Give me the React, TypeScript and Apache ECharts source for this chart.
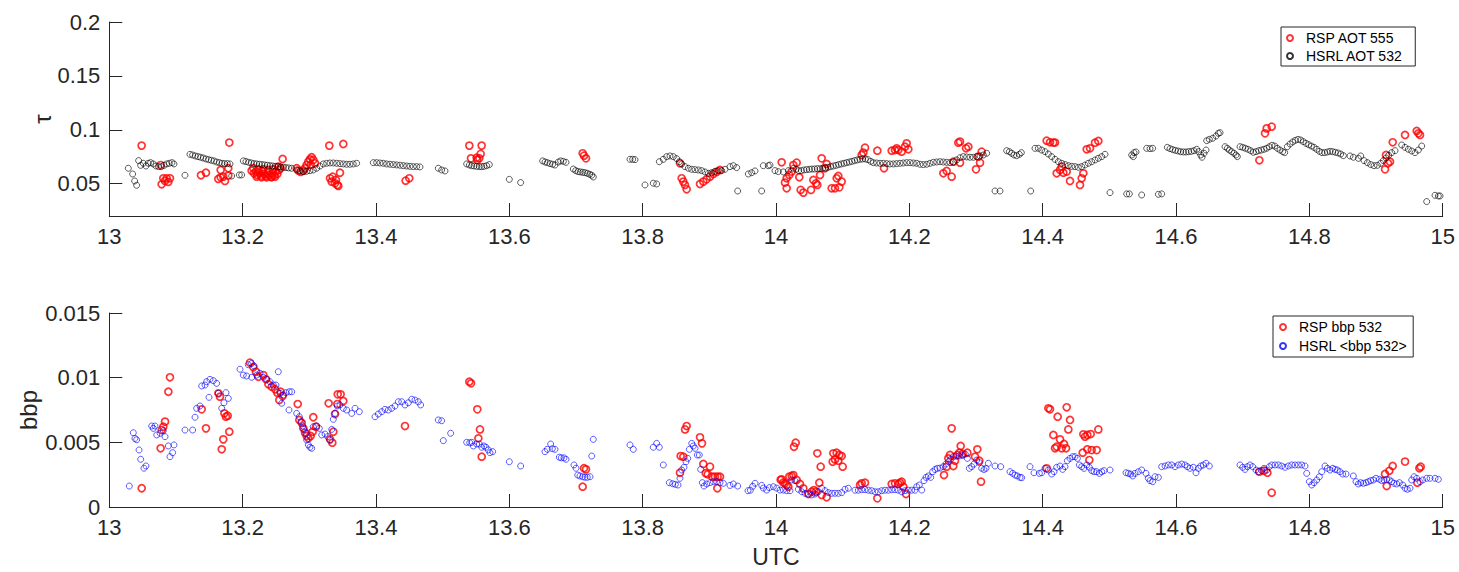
import React, { useEffect, useRef } from "react";
import * as echarts from "echarts";

// UTC hour vs. aerosol optical thickness (top) and particulate backscatter (bottom)
const xTicks = [13, 13.2, 13.4, 13.6, 13.8, 14, 14.2, 14.4, 14.6, 14.8, 15];
const tauTicks = [0.05, 0.1, 0.15, 0.2];
const bbpTicks = [0, 0.005, 0.01, 0.015];

const rspAot: [number, number][] = [
  [13.0485, 0.0853], [13.0785, 0.0494], [13.081, 0.055], [13.086, 0.055], [13.091, 0.055], [13.0835, 0.0525],
  [13.0885, 0.0516], [13.077, 0.0673], [13.1375, 0.0578], [13.145, 0.0602], [13.1635, 0.0544], [13.167, 0.0559],
  [13.171, 0.0565], [13.1735, 0.0525], [13.1785, 0.0575], [13.167, 0.0627], [13.18, 0.0881], [13.1785, 0.0643],
  [13.2135, 0.0621], [13.217, 0.0596], [13.22, 0.0612], [13.222, 0.0581], [13.225, 0.0602], [13.2275, 0.0571],
  [13.23, 0.0612], [13.232, 0.059], [13.2345, 0.0571], [13.237, 0.0602], [13.2395, 0.0581], [13.242, 0.0565],
  [13.2445, 0.0596], [13.247, 0.0578], [13.2495, 0.0612], [13.252, 0.059], [13.2545, 0.0627], [13.257, 0.0643],
  [13.216, 0.0643], [13.2235, 0.0633], [13.231, 0.0633], [13.2385, 0.0627], [13.246, 0.0633], [13.2535, 0.0658],
  [13.221, 0.0565], [13.2285, 0.0559], [13.236, 0.0559], [13.2435, 0.0559], [13.2485, 0.0565], [13.26, 0.0729],
  [13.281, 0.0643], [13.284, 0.0621], [13.287, 0.0609], [13.291, 0.0621], [13.2935, 0.0643], [13.296, 0.0673],
  [13.2985, 0.0704], [13.301, 0.0726], [13.3035, 0.0745], [13.306, 0.072], [13.302, 0.0673], [13.3085, 0.0689],
  [13.33, 0.0853], [13.351, 0.0868], [13.331, 0.055], [13.335, 0.0565], [13.3335, 0.0519], [13.3385, 0.0503],
  [13.342, 0.0488], [13.3435, 0.0479], [13.346, 0.0602], [13.34, 0.0534], [13.4445, 0.0528], [13.45, 0.055],
  [13.54, 0.0853], [13.5585, 0.0853], [13.5425, 0.0735], [13.552, 0.072], [13.555, 0.0735], [13.557, 0.0776],
  [13.551, 0.0741], [13.71, 0.0782], [13.712, 0.076], [13.715, 0.0735], [13.856, 0.0689], [13.8585, 0.055],
  [13.861, 0.0519], [13.8635, 0.0488], [13.866, 0.0448], [13.886, 0.0497], [13.891, 0.0519], [13.896, 0.054],
  [13.901, 0.0565], [13.906, 0.059], [13.911, 0.0609], [13.916, 0.0627], [14.0085, 0.0698], [14.016, 0.055],
  [14.016, 0.0457], [14.0135, 0.051], [14.02, 0.0581], [14.0235, 0.0612], [14.026, 0.0673], [14.031, 0.0695],
  [14.035, 0.0559], [14.037, 0.0442], [14.041, 0.0417], [14.0525, 0.0442], [14.056, 0.0534], [14.06, 0.0503],
  [14.062, 0.0488], [14.066, 0.0581], [14.0685, 0.0735], [14.0735, 0.0643], [14.076, 0.0683], [14.0835, 0.0457],
  [14.0885, 0.0457], [14.091, 0.055], [14.095, 0.0466], [14.0985, 0.0519], [14.0935, 0.0571], [14.1285, 0.0766],
  [14.131, 0.0788], [14.1335, 0.0834], [14.152, 0.0806], [14.162, 0.0643], [14.1735, 0.0806], [14.1785, 0.0812],
  [14.1835, 0.0812], [14.1885, 0.0797], [14.1935, 0.0843], [14.196, 0.0874], [14.1985, 0.0819], [14.181, 0.0828],
  [14.251, 0.0596], [14.256, 0.0618], [14.2635, 0.0565], [14.266, 0.0704], [14.276, 0.0695], [14.2735, 0.088],
  [14.276, 0.089], [14.285, 0.0828], [14.2885, 0.0843], [14.3, 0.0633], [14.3035, 0.0751], [14.3085, 0.0797],
  [14.306, 0.0695], [14.406, 0.0899], [14.411, 0.0884], [14.416, 0.0881], [14.4185, 0.0881], [14.421, 0.0596],
  [14.426, 0.0627], [14.431, 0.0602], [14.436, 0.0612], [14.441, 0.0525], [14.4285, 0.0658], [14.456, 0.0488],
  [14.4585, 0.055], [14.461, 0.0596], [14.466, 0.0819], [14.471, 0.0828], [14.4785, 0.088], [14.4835, 0.0896],
  [14.7335, 0.0967], [14.736, 0.1013], [14.7435, 0.1029], [14.725, 0.0717], [14.925, 0.0884], [14.9435, 0.0952],
  [14.961, 0.0989], [14.9635, 0.0967], [14.966, 0.0952], [14.915, 0.0766], [14.918, 0.0689], [14.921, 0.0704],
  [14.9135, 0.0633],
];

const hsrlAot: [number, number][] = [
  [13.0285, 0.0643], [13.035, 0.059], [13.038, 0.0525], [13.041, 0.0485], [13.044, 0.0714], [13.047, 0.067],
  [13.051, 0.0689], [13.055, 0.0664], [13.0585, 0.0689], [13.062, 0.0695], [13.066, 0.0683], [13.07, 0.0664],
  [13.074, 0.0658], [13.078, 0.0658], [13.082, 0.067], [13.086, 0.0683], [13.09, 0.0689], [13.094, 0.0695],
  [13.097, 0.0683], [13.1135, 0.0578], [13.121, 0.0772], [13.125, 0.0766], [13.129, 0.0757], [13.133, 0.0751],
  [13.137, 0.0745], [13.141, 0.0738], [13.145, 0.0729], [13.149, 0.0723], [13.153, 0.0717], [13.157, 0.0711],
  [13.161, 0.0701], [13.165, 0.0695], [13.169, 0.0689], [13.173, 0.0686], [13.177, 0.0686], [13.181, 0.0683],
  [13.1835, 0.0571], [13.195, 0.0581], [13.1985, 0.0581], [13.201, 0.0711], [13.205, 0.0705], [13.209, 0.0698],
  [13.213, 0.0692], [13.217, 0.0686], [13.221, 0.0683], [13.225, 0.068], [13.229, 0.0677], [13.233, 0.0674],
  [13.237, 0.0671], [13.241, 0.0667], [13.245, 0.0664], [13.249, 0.0661], [13.253, 0.0658], [13.257, 0.0655],
  [13.261, 0.0652], [13.265, 0.0649], [13.269, 0.0646], [13.2735, 0.0643], [13.281, 0.0627], [13.286, 0.0618],
  [13.291, 0.0612], [13.296, 0.0615], [13.301, 0.0621], [13.306, 0.0627], [13.311, 0.0643], [13.316, 0.0664],
  [13.321, 0.0683], [13.326, 0.0689], [13.331, 0.0692], [13.336, 0.0692], [13.341, 0.0689], [13.346, 0.0686],
  [13.351, 0.0683], [13.356, 0.068], [13.361, 0.068], [13.366, 0.0683], [13.371, 0.0689], [13.396, 0.0695],
  [13.401, 0.0695], [13.406, 0.0692], [13.411, 0.0689], [13.416, 0.0683], [13.421, 0.068], [13.426, 0.0677],
  [13.431, 0.0674], [13.436, 0.0671], [13.441, 0.0667], [13.446, 0.0664], [13.451, 0.0661], [13.456, 0.0658],
  [13.461, 0.0658], [13.466, 0.0655], [13.4935, 0.0643], [13.4985, 0.0627], [13.5035, 0.0618], [13.536, 0.0683],
  [13.54, 0.0673], [13.5435, 0.0667], [13.547, 0.0664], [13.551, 0.0661], [13.555, 0.0658], [13.5585, 0.0658],
  [13.562, 0.0661], [13.566, 0.0667], [13.57, 0.0677], [13.6, 0.054], [13.617, 0.051], [13.65, 0.0711],
  [13.6535, 0.0701], [13.657, 0.0695], [13.661, 0.0686], [13.665, 0.068], [13.6685, 0.0673], [13.6735, 0.0701],
  [13.677, 0.0711], [13.681, 0.0707], [13.685, 0.0698], [13.696, 0.0636], [13.6995, 0.0621], [13.703, 0.0612],
  [13.7065, 0.0609], [13.71, 0.0605], [13.7135, 0.0602], [13.717, 0.0596], [13.7205, 0.0587], [13.7235, 0.0578],
  [13.726, 0.0562], [13.781, 0.0726], [13.785, 0.0726], [13.7885, 0.0723], [13.8035, 0.0488], [13.816, 0.0504],
  [13.821, 0.0497], [13.825, 0.0704], [13.831, 0.0726], [13.836, 0.0751], [13.841, 0.0757], [13.846, 0.0751],
  [13.851, 0.0732], [13.855, 0.0704], [13.8585, 0.0683], [13.8635, 0.0658], [13.8685, 0.0643], [13.8735, 0.0633],
  [13.8785, 0.063], [13.8835, 0.0627], [13.8885, 0.0621], [13.8935, 0.0609], [13.8985, 0.0596], [13.9035, 0.0602],
  [13.9085, 0.0615], [13.9135, 0.0621], [13.9185, 0.0621], [13.9235, 0.0633], [13.931, 0.0658], [13.936, 0.0667],
  [13.941, 0.0649], [13.9425, 0.0432], [13.9585, 0.059], [13.9635, 0.0602], [13.9685, 0.0618], [13.9785, 0.0432],
  [13.981, 0.0667], [13.9885, 0.0667], [13.991, 0.0673], [13.9985, 0.0621], [14.0035, 0.0612], [14.011, 0.0609],
  [14.0185, 0.0621], [14.026, 0.0643], [14.03, 0.0633], [14.034, 0.0621], [14.038, 0.0621], [14.042, 0.0627],
  [14.046, 0.063], [14.05, 0.0633], [14.054, 0.0636], [14.058, 0.0636], [14.062, 0.0639], [14.066, 0.0639],
  [14.07, 0.0643], [14.074, 0.0646], [14.078, 0.0652], [14.082, 0.0658], [14.086, 0.0664], [14.09, 0.067],
  [14.094, 0.0677], [14.098, 0.0683], [14.102, 0.0689], [14.106, 0.0695], [14.11, 0.0701], [14.114, 0.0707],
  [14.118, 0.0714], [14.122, 0.072], [14.126, 0.0726], [14.13, 0.0729], [14.134, 0.0729], [14.138, 0.0723],
  [14.142, 0.0707], [14.146, 0.0695], [14.151, 0.0692], [14.156, 0.0689], [14.161, 0.0689], [14.166, 0.0686],
  [14.171, 0.0683], [14.176, 0.0683], [14.181, 0.0686], [14.186, 0.0689], [14.191, 0.0692], [14.196, 0.0695],
  [14.201, 0.0695], [14.206, 0.0692], [14.211, 0.0689], [14.216, 0.068], [14.221, 0.0677], [14.226, 0.068],
  [14.231, 0.0689], [14.236, 0.0698], [14.241, 0.0701], [14.246, 0.0704], [14.251, 0.0701], [14.256, 0.0698],
  [14.261, 0.0695], [14.266, 0.0701], [14.271, 0.072], [14.276, 0.0741], [14.281, 0.0751], [14.286, 0.0748],
  [14.291, 0.0745], [14.296, 0.0745], [14.301, 0.0751], [14.306, 0.0757], [14.311, 0.0766], [14.316, 0.0782],
  [14.3285, 0.0432], [14.336, 0.0432], [14.346, 0.0806], [14.35, 0.0797], [14.3535, 0.0782], [14.357, 0.0766],
  [14.361, 0.076], [14.365, 0.0772], [14.368, 0.0788], [14.382, 0.0432], [14.3885, 0.0828], [14.3935, 0.0828],
  [14.3985, 0.0812], [14.4035, 0.0797], [14.4085, 0.0775], [14.4135, 0.0751], [14.4185, 0.0726], [14.4235, 0.0704],
  [14.4285, 0.0689], [14.4335, 0.0677], [14.4385, 0.0667], [14.4435, 0.0661], [14.4485, 0.0658], [14.4535, 0.0652],
  [14.4585, 0.0658], [14.4635, 0.0673], [14.4685, 0.0689], [14.4735, 0.0704], [14.4785, 0.072], [14.4835, 0.0735],
  [14.4885, 0.0751], [14.4935, 0.0772], [14.501, 0.0417], [14.526, 0.0405], [14.53, 0.0405], [14.5485, 0.0395],
  [14.5735, 0.0401], [14.5785, 0.0405], [14.5335, 0.0766], [14.537, 0.0788], [14.54, 0.0794], [14.536, 0.0751],
  [14.556, 0.0828], [14.561, 0.0825], [14.565, 0.0828], [14.587, 0.0837], [14.591, 0.0825], [14.595, 0.0816],
  [14.599, 0.0809], [14.603, 0.0803], [14.607, 0.0797], [14.611, 0.0794], [14.615, 0.0794], [14.619, 0.0797],
  [14.623, 0.08], [14.627, 0.0806], [14.631, 0.0819], [14.634, 0.0797], [14.637, 0.0766], [14.639, 0.0745],
  [14.642, 0.0782], [14.645, 0.0812], [14.646, 0.0899], [14.65, 0.0911], [14.655, 0.0921], [14.66, 0.0942],
  [14.6635, 0.0967], [14.666, 0.0973], [14.6735, 0.0843], [14.677, 0.0828], [14.68, 0.0812], [14.6835, 0.0797],
  [14.687, 0.0782], [14.69, 0.0766], [14.692, 0.0751], [14.696, 0.0843], [14.7, 0.0837], [14.704, 0.0828],
  [14.708, 0.0819], [14.712, 0.0806], [14.716, 0.0791], [14.72, 0.0797], [14.724, 0.0806], [14.728, 0.0812],
  [14.732, 0.0819], [14.736, 0.0828], [14.74, 0.0843], [14.744, 0.0856], [14.748, 0.0849], [14.752, 0.0828],
  [14.756, 0.0812], [14.76, 0.0797], [14.763, 0.0788], [14.767, 0.0843], [14.771, 0.0868], [14.775, 0.0887],
  [14.779, 0.0902], [14.783, 0.0911], [14.787, 0.0905], [14.791, 0.089], [14.795, 0.0874], [14.799, 0.0862],
  [14.803, 0.0849], [14.807, 0.0837], [14.811, 0.0819], [14.815, 0.08], [14.819, 0.0788], [14.823, 0.0788],
  [14.827, 0.0794], [14.831, 0.08], [14.835, 0.0797], [14.839, 0.0791], [14.843, 0.0785], [14.847, 0.0775],
  [14.851, 0.076], [14.861, 0.0757], [14.866, 0.0745], [14.8735, 0.0735], [14.877, 0.0757], [14.882, 0.0714],
  [14.887, 0.0695], [14.892, 0.0677], [14.897, 0.0667], [14.902, 0.067], [14.907, 0.0689], [14.911, 0.0714],
  [14.915, 0.0738], [14.919, 0.0763], [14.9235, 0.0788], [14.9285, 0.0806], [14.9385, 0.0859], [14.9435, 0.0837],
  [14.9485, 0.0819], [14.9535, 0.0803], [14.9585, 0.0788], [14.9635, 0.0812], [14.9685, 0.0849], [14.976, 0.0334],
  [14.9885, 0.0392], [14.9935, 0.0386], [14.996, 0.0386],
];

const rspBbp: [number, number][] = [
  [13.0486, 0.00145], [13.077, 0.00454], [13.0786, 0.00595], [13.081, 0.00621], [13.0836, 0.0066], [13.0886, 0.00891],
  [13.091, 0.01003], [13.1386, 0.00755], [13.145, 0.00608], [13.1636, 0.00879], [13.166, 0.00853], [13.1686, 0.00446],
  [13.171, 0.00523], [13.1726, 0.00724], [13.175, 0.00698], [13.1776, 0.00706], [13.18, 0.00582], [13.211, 0.01116],
  [13.216, 0.0108], [13.22, 0.01046], [13.2236, 0.01007], [13.231, 0.0102], [13.235, 0.00987], [13.2386, 0.00949],
  [13.2436, 0.0093], [13.2486, 0.0091], [13.252, 0.00884], [13.257, 0.00891], [13.255, 0.00827], [13.26, 0.00858],
  [13.2826, 0.00796], [13.285, 0.00673], [13.2886, 0.00652], [13.291, 0.00608], [13.2936, 0.00575], [13.296, 0.00549],
  [13.2986, 0.00531], [13.302, 0.00549], [13.306, 0.00694], [13.305, 0.00582], [13.31, 0.00621], [13.329, 0.00802],
  [13.331, 0.00523], [13.3345, 0.00497], [13.336, 0.00582], [13.3386, 0.00719], [13.342, 0.00796], [13.3426, 0.00871],
  [13.347, 0.00871], [13.351, 0.0082], [13.4435, 0.00626], [13.54, 0.00969], [13.5426, 0.00956], [13.552, 0.00755],
  [13.556, 0.006], [13.5536, 0.00531], [13.5586, 0.00389], [13.712, 0.003], [13.715, 0.00291], [13.71, 0.00157],
  [13.8636, 0.006], [13.866, 0.00626], [13.857, 0.00394], [13.861, 0.00389], [13.856, 0.00265], [13.886, 0.00539],
  [13.889, 0.00492], [13.891, 0.00333], [13.8946, 0.00261], [13.8976, 0.00253], [13.901, 0.00312], [13.9045, 0.00234],
  [13.9085, 0.00234], [13.9125, 0.00234], [13.916, 0.00234], [13.912, 0.00145], [14.007, 0.0021], [14.011, 0.0019],
  [14.016, 0.0017], [14.02, 0.00235], [14.0185, 0.00157], [14.0085, 0.00214], [14.0135, 0.00183], [14.0235, 0.0024],
  [14.026, 0.00247], [14.031, 0.00209], [14.027, 0.00466], [14.0295, 0.00497], [14.036, 0.00178], [14.041, 0.00144],
  [14.0485, 0.001], [14.0535, 0.00118], [14.057, 0.00131], [14.06, 0.00118], [14.062, 0.00415], [14.065, 0.00188],
  [14.067, 0.00312], [14.0685, 0.00093], [14.076, 0.00075], [14.086, 0.00415], [14.091, 0.0042], [14.095, 0.00402],
  [14.0985, 0.00394], [14.0885, 0.00368], [14.085, 0.0035], [14.0935, 0.00358], [14.1, 0.00312], [14.126, 0.0017],
  [14.1285, 0.00183], [14.1335, 0.00188], [14.152, 0.00067], [14.1735, 0.00178], [14.1785, 0.00183], [14.1835, 0.00178],
  [14.1885, 0.00196], [14.191, 0.00157], [14.195, 0.001], [14.186, 0.00188], [14.252, 0.00247], [14.256, 0.00312],
  [14.2585, 0.00376], [14.261, 0.00402], [14.2635, 0.00608], [14.266, 0.00317], [14.2685, 0.00358], [14.272, 0.00402],
  [14.275, 0.0042], [14.277, 0.00472], [14.28, 0.0041], [14.287, 0.0042], [14.2985, 0.00389], [14.302, 0.00446],
  [14.305, 0.00358], [14.3075, 0.00196], [14.406, 0.00299], [14.4085, 0.00763], [14.411, 0.00755], [14.416, 0.00557],
  [14.4185, 0.00454], [14.421, 0.00466], [14.4225, 0.00698], [14.426, 0.00523], [14.4285, 0.00454], [14.432, 0.00487],
  [14.435, 0.00454], [14.436, 0.00771], [14.4385, 0.006], [14.441, 0.00673], [14.461, 0.00562], [14.4635, 0.00544],
  [14.467, 0.00557], [14.472, 0.00564], [14.4835, 0.006], [14.46, 0.0042], [14.467, 0.00446], [14.4735, 0.0044],
  [14.481, 0.0044], [14.47, 0.00363], [14.725, 0.00273], [14.732, 0.00281], [14.737, 0.00265], [14.7435, 0.00111],
  [14.9135, 0.00255], [14.92, 0.0028], [14.925, 0.00317], [14.916, 0.00162], [14.9435, 0.00351], [14.965, 0.00299],
  [14.967, 0.00312], [14.962, 0.00188],
];

const hsrlBbp: [number, number][] = [
  [13.03, 0.00162], [13.036, 0.00574], [13.0385, 0.0053], [13.041, 0.0052], [13.0446, 0.00441], [13.0471, 0.00369],
  [13.052, 0.003], [13.055, 0.00317], [13.0636, 0.00626], [13.0686, 0.00626], [13.066, 0.00608], [13.0711, 0.00557],
  [13.0761, 0.0057], [13.081, 0.0059], [13.0836, 0.00544], [13.0886, 0.00472], [13.091, 0.00389], [13.095, 0.0042],
  [13.097, 0.0048], [13.1135, 0.00595], [13.125, 0.00595], [13.1286, 0.00694], [13.131, 0.00763], [13.136, 0.00781],
  [13.1386, 0.00936], [13.1436, 0.00943], [13.146, 0.00969], [13.151, 0.00987], [13.156, 0.00977], [13.161, 0.00956],
  [13.1495, 0.00848], [13.1635, 0.00879], [13.1686, 0.00763], [13.172, 0.00806], [13.175, 0.00884], [13.1785, 0.0084],
  [13.196, 0.01065], [13.201, 0.0102], [13.206, 0.01013], [13.2085, 0.011], [13.2135, 0.0111], [13.217, 0.0109],
  [13.2136, 0.01003], [13.221, 0.0102], [13.226, 0.01034], [13.231, 0.01003], [13.236, 0.00987], [13.241, 0.00969],
  [13.246, 0.00943], [13.25, 0.00943], [13.2535, 0.01046], [13.256, 0.00879], [13.261, 0.00866], [13.265, 0.00884],
  [13.27, 0.00891], [13.2736, 0.00891], [13.2586, 0.00802], [13.2695, 0.0075], [13.281, 0.00724], [13.285, 0.00698],
  [13.2876, 0.0066], [13.29, 0.00626], [13.292, 0.006], [13.295, 0.0057], [13.296, 0.00518], [13.2985, 0.0048],
  [13.301, 0.00462], [13.3036, 0.00454], [13.306, 0.00621], [13.311, 0.00626], [13.315, 0.00608], [13.3186, 0.00557],
  [13.3236, 0.00564], [13.3276, 0.00544], [13.331, 0.00518], [13.3336, 0.006], [13.336, 0.00678], [13.3386, 0.00724],
  [13.342, 0.00781], [13.346, 0.00789], [13.351, 0.00763], [13.356, 0.0075], [13.3636, 0.00724], [13.3686, 0.00763],
  [13.375, 0.00737], [13.3986, 0.00698], [13.4035, 0.00719], [13.4086, 0.00737], [13.4135, 0.00755], [13.4185, 0.0075],
  [13.4236, 0.00763], [13.4285, 0.00781], [13.4335, 0.00814], [13.4386, 0.00814], [13.4435, 0.00789], [13.4485, 0.00806],
  [13.4536, 0.00833], [13.4585, 0.00827], [13.4635, 0.00814], [13.467, 0.00789], [13.4935, 0.00673], [13.4985, 0.00667],
  [13.501, 0.00513], [13.512, 0.0057], [13.536, 0.005], [13.5406, 0.00497], [13.5436, 0.005], [13.546, 0.00472],
  [13.551, 0.00487], [13.555, 0.00487], [13.5586, 0.00462], [13.562, 0.00472], [13.565, 0.00462], [13.5685, 0.00441],
  [13.571, 0.0042], [13.575, 0.00428], [13.6, 0.0035], [13.617, 0.00317], [13.6535, 0.00428], [13.657, 0.00446],
  [13.662, 0.00487], [13.6645, 0.00451], [13.6685, 0.00446], [13.675, 0.00385], [13.678, 0.0038], [13.682, 0.0038],
  [13.685, 0.00369], [13.697, 0.00325], [13.7, 0.003], [13.7026, 0.00247], [13.706, 0.0024], [13.71, 0.00234],
  [13.7135, 0.0023], [13.717, 0.0023], [13.721, 0.00234], [13.7236, 0.00394], [13.726, 0.00523], [13.781, 0.0048],
  [13.786, 0.00446], [13.816, 0.00462], [13.821, 0.00492], [13.825, 0.00462], [13.831, 0.00325], [13.84, 0.00188],
  [13.845, 0.0018], [13.849, 0.00175], [13.853, 0.0017], [13.856, 0.00222], [13.8586, 0.00286], [13.862, 0.00307],
  [13.865, 0.0035], [13.8676, 0.00376], [13.87, 0.00446], [13.8736, 0.00492], [13.876, 0.00472], [13.8786, 0.00454],
  [13.882, 0.00402], [13.885, 0.00402], [13.887, 0.00291], [13.8895, 0.00188], [13.892, 0.00162], [13.896, 0.00178],
  [13.901, 0.00188], [13.906, 0.00196], [13.911, 0.00196], [13.916, 0.00188], [13.921, 0.00183], [13.931, 0.00167],
  [13.936, 0.00178], [13.9425, 0.00162], [13.958, 0.00126], [13.9615, 0.0013], [13.965, 0.0016], [13.9686, 0.00183],
  [13.9786, 0.00167], [13.981, 0.00146], [13.986, 0.00131], [13.99, 0.0015], [13.996, 0.00157], [14.001, 0.00146],
  [14.006, 0.00131], [14.011, 0.00131], [14.016, 0.00126], [14.021, 0.00126], [14.0235, 0.00209], [14.0285, 0.00204],
  [14.0335, 0.00137], [14.0386, 0.00118], [14.0435, 0.00106], [14.0485, 0.001], [14.0536, 0.00093], [14.0585, 0.001],
  [14.0635, 0.00118], [14.0686, 0.00145], [14.0735, 0.00126], [14.0785, 0.00111], [14.0836, 0.00106], [14.0885, 0.00106],
  [14.0935, 0.00106], [14.0986, 0.00111], [14.1035, 0.00137], [14.1085, 0.00145], [14.1185, 0.0013], [14.1235, 0.0013],
  [14.1285, 0.00134], [14.1335, 0.00134], [14.1385, 0.0013], [14.1435, 0.00126], [14.1485, 0.00118], [14.1535, 0.00118],
  [14.1585, 0.00126], [14.1635, 0.0013], [14.1685, 0.0013], [14.1735, 0.00134], [14.1785, 0.00134], [14.1835, 0.0013],
  [14.1885, 0.00118], [14.1935, 0.00126], [14.1985, 0.0013], [14.2035, 0.0013], [14.2085, 0.0013], [14.211, 0.00157],
  [14.215, 0.0017], [14.2185, 0.00131], [14.222, 0.00204], [14.225, 0.00229], [14.2285, 0.0024], [14.232, 0.00229],
  [14.235, 0.00273], [14.2385, 0.0029], [14.242, 0.00299], [14.246, 0.00301], [14.251, 0.00312], [14.255, 0.00332],
  [14.2585, 0.0035], [14.262, 0.00368], [14.266, 0.00389], [14.27, 0.00394], [14.275, 0.00394], [14.28, 0.00399],
  [14.284, 0.00409], [14.287, 0.00376], [14.29, 0.00299], [14.2935, 0.00312], [14.297, 0.00332], [14.301, 0.00363],
  [14.305, 0.00343], [14.3085, 0.00299], [14.312, 0.0029], [14.315, 0.00299], [14.3185, 0.00338], [14.3285, 0.00317],
  [14.337, 0.00312], [14.351, 0.00273], [14.355, 0.0026], [14.3585, 0.00247], [14.362, 0.0024], [14.366, 0.00229],
  [14.3685, 0.00227], [14.381, 0.00312], [14.387, 0.00265], [14.395, 0.0026], [14.3985, 0.00265], [14.4035, 0.00299],
  [14.4085, 0.00286], [14.4135, 0.00255], [14.417, 0.00273], [14.421, 0.00307], [14.426, 0.00317], [14.43, 0.00291],
  [14.4335, 0.00312], [14.437, 0.00358], [14.441, 0.00376], [14.445, 0.00389], [14.4485, 0.00389], [14.452, 0.00376],
  [14.455, 0.00325], [14.4585, 0.00312], [14.462, 0.00299], [14.466, 0.00325], [14.47, 0.00307], [14.4735, 0.00281],
  [14.477, 0.00273], [14.481, 0.00273], [14.485, 0.0026], [14.4885, 0.00273], [14.492, 0.00281], [14.501, 0.00286],
  [14.525, 0.00265], [14.5285, 0.0026], [14.532, 0.00255], [14.535, 0.0024], [14.5385, 0.0026], [14.5435, 0.00273],
  [14.5485, 0.00286], [14.555, 0.0026], [14.5585, 0.00222], [14.561, 0.00204], [14.565, 0.00196], [14.5685, 0.00234],
  [14.5735, 0.00229], [14.5785, 0.00312], [14.5835, 0.00317], [14.5885, 0.00325], [14.5935, 0.00325], [14.5985, 0.00312],
  [14.6035, 0.00325], [14.6085, 0.00332], [14.6135, 0.00325], [14.617, 0.00312], [14.621, 0.00299], [14.626, 0.00307],
  [14.63, 0.00265], [14.6335, 0.00299], [14.637, 0.00317], [14.641, 0.00325], [14.645, 0.00338], [14.65, 0.00317],
  [14.696, 0.00325], [14.7, 0.00307], [14.7035, 0.00291], [14.707, 0.00312], [14.711, 0.00325], [14.715, 0.00312],
  [14.72, 0.00286], [14.7235, 0.00273], [14.7285, 0.00281], [14.732, 0.00299], [14.736, 0.00286], [14.74, 0.00312],
  [14.7435, 0.00325], [14.7485, 0.00325], [14.7535, 0.00325], [14.7585, 0.00317], [14.7635, 0.00307], [14.7685, 0.00317],
  [14.7735, 0.00325], [14.7785, 0.00325], [14.7835, 0.00325], [14.7885, 0.00325], [14.7935, 0.00317], [14.796, 0.0026],
  [14.8, 0.00196], [14.8035, 0.0017], [14.807, 0.00188], [14.811, 0.00209], [14.815, 0.00234], [14.8185, 0.00273],
  [14.8235, 0.00317], [14.827, 0.00299], [14.831, 0.00286], [14.835, 0.00299], [14.8385, 0.00291], [14.842, 0.00286],
  [14.846, 0.00273], [14.85, 0.00255], [14.855, 0.00255], [14.866, 0.0024], [14.87, 0.00196], [14.8735, 0.00178],
  [14.877, 0.00188], [14.881, 0.00183], [14.885, 0.00188], [14.8885, 0.00196], [14.892, 0.00204], [14.896, 0.00209],
  [14.9, 0.00222], [14.905, 0.00214], [14.9085, 0.00204], [14.912, 0.00209], [14.916, 0.00214], [14.92, 0.00209],
  [14.9235, 0.00196], [14.927, 0.00183], [14.931, 0.00178], [14.935, 0.00188], [14.94, 0.0017], [14.9435, 0.00145],
  [14.947, 0.00137], [14.951, 0.00145], [14.9535, 0.00209], [14.957, 0.00234], [14.961, 0.00222], [14.966, 0.00196],
  [14.97, 0.00209], [14.976, 0.00222], [14.981, 0.00222], [14.9885, 0.00222], [14.9935, 0.00214],
];

const FONT = "'Liberation Sans', Arial, Helvetica, sans-serif";
const AXIS_COLOR = "#262626";

const fmt = (v: number) => String(parseFloat(v.toFixed(4)));

function xAxisFor(gridIndex: number) {
  return {
    type: "value",
    gridIndex,
    min: 13,
    max: 15,
    interval: 0.2,
    axisLine: { show: true, onZero: false, lineStyle: { color: AXIS_COLOR, width: 1 } },
    axisTick: { show: true, inside: true, length: 13, lineStyle: { color: AXIS_COLOR, width: 1 } },
    axisLabel: {
      show: true,
      margin: 12,
      color: AXIS_COLOR,
      fontFamily: FONT,
      fontSize: 22,
      lineHeight: 16,
      formatter: (v: number) => fmt(v),
      customValues: xTicks,
    },
    splitLine: { show: false },
  };
}

function yAxisFor(gridIndex: number, min: number, max: number, ticks: number[]) {
  return {
    type: "value",
    gridIndex,
    min,
    max,
    axisLine: { show: true, lineStyle: { color: AXIS_COLOR, width: 1 } },
    axisTick: { show: true, inside: true, length: 13, lineStyle: { color: AXIS_COLOR }, customValues: ticks },
    axisLabel: {
      show: true, margin: 9, color: AXIS_COLOR, fontFamily: FONT, fontSize: 22, lineHeight: 16,
      formatter: (v: number) => fmt(v), customValues: ticks,
    },
    splitLine: { show: false },
  };
}

function legendFor(top: number, left: number, names: string[], gap: number, padding: number[]) {
  return {
    orient: "vertical",
    left,
    top,
    data: names,
    icon: "circle",
    itemWidth: 22,
    itemHeight: 6,
    itemGap: gap,
    padding,
    borderColor: AXIS_COLOR,
    borderWidth: 1,
    borderRadius: 0,
    backgroundColor: "#ffffff",
    selectedMode: false,
    textStyle: { fontFamily: FONT, fontSize: 14, color: "#000000", padding: [0, 0, 0, 0] },
  };
}

function scatter(name: string, data: [number, number][], color: string, size: number, width: number, idx: number) {
  return {
    type: "scatter",
    name,
    data,
    xAxisIndex: idx,
    yAxisIndex: idx,
    symbol: "circle",
    symbolSize: size,
    silent: true,
    itemStyle: { color: "rgba(0,0,0,0)", borderColor: color, borderWidth: width },
  };
}

export default function App() {
  const ref = useRef<HTMLDivElement>(null);

  useEffect(() => {
    document.body.style.margin = "0";
    const chart = echarts.init(ref.current as HTMLDivElement, null, { renderer: "svg" });
    chart.setOption({
      animation: false,
      backgroundColor: "#ffffff",
      textStyle: { fontFamily: FONT },
      grid: [
        { left: 109.3, top: 22, width: 1333.4, height: 194 },
        { left: 109.3, top: 313, width: 1333.4, height: 194 },
      ],
      xAxis: [xAxisFor(0), xAxisFor(1)],
      yAxis: [yAxisFor(0, 0.02, 0.2, tauTicks), yAxisFor(1, 0, 0.015, bbpTicks)],
      legend: [
        legendFor(27, 1281, ["RSP AOT 555", "HSRL AOT 532"], 4, [4, 12, 3, 5]),
        legendFor(316, 1273, ["RSP bbp 532", "HSRL <bbp 532>"], 5, [4, 6, 4, 6]),
      ],
      series: [
        scatter("RSP AOT 555", rspAot, "#ff0000", 7, 1.7, 0),
        scatter("HSRL AOT 532", hsrlAot, "#000000", 6, 0.8, 0),
        scatter("RSP bbp 532", rspBbp, "#ff0000", 7, 1.7, 1),
        scatter("HSRL <bbp 532>", hsrlBbp, "#0000ff", 6, 0.8, 1),
      ],
      graphic: [
        {
          type: "text", x: 42, y: 119, rotation: Math.PI / 2,
          style: { text: "τ", font: `24px ${FONT}`, fill: AXIS_COLOR, textAlign: "center", textVerticalAlign: "middle" },
        },
        {
          type: "text", x: 28, y: 410, rotation: Math.PI / 2,
          style: { text: "bbp", font: `24px ${FONT}`, fill: AXIS_COLOR, textAlign: "center", textVerticalAlign: "middle" },
        },
        {
          type: "text", x: 776, y: 557,
          style: { text: "UTC", font: `23px ${FONT}`, fill: AXIS_COLOR, textAlign: "center", textVerticalAlign: "middle" },
        },
      ],
    });
    return () => chart.dispose();
  }, []);

  return <div ref={ref} style={{ width: 1459, height: 572 }} />;
}
